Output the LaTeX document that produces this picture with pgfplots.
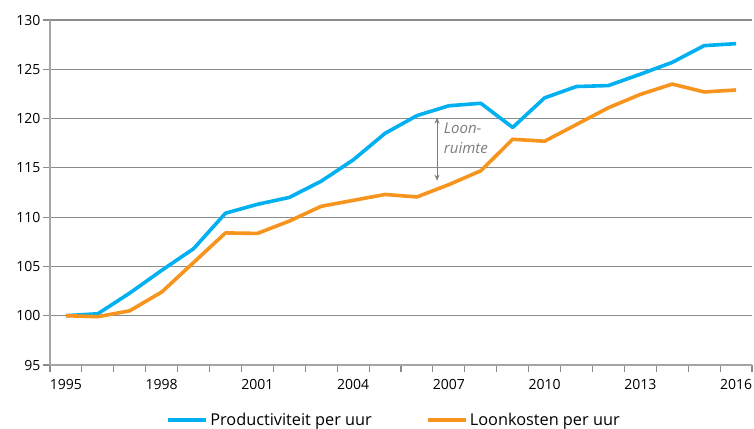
\documentclass[border=0pt]{standalone}
\usepackage{fontspec}
\setmainfont{Open Sans}
\usepackage{pgfplots}
\pgfplotsset{compat=1.18}
\usetikzlibrary{arrows.meta}
\definecolor{prodblue}{RGB}{0,176,240}
\definecolor{loonorange}{RGB}{247,148,30}
\definecolor{gridgray}{RGB}{140,140,140}
\definecolor{axisgray}{RGB}{165,165,165}
\definecolor{notegray}{RGB}{125,125,125}

\pgfplotstableread{
year prod loon
1995 100.0 100.0
1996 100.2 99.9
1997 102.3 100.5
1998 104.6 102.4
1999 106.8 105.4
2000 110.4 108.4
2001 111.3 108.35
2002 112.0 109.6
2003 113.65 111.1
2004 115.8 111.7
2005 118.5 112.3
2006 120.3 112.05
2007 121.3 113.3
2008 121.55 114.7
2009 119.1 117.9
2010 122.1 117.7
2011 123.25 119.4
2012 123.35 121.1
2013 124.5 122.45
2014 125.7 123.5
2015 127.4 122.7
2016 127.6 122.9
}\datatable

\begin{document}
\begin{tikzpicture}
\path[use as bounding box] (-50bp,-64bp) rectangle (704bp,365bp);
\begin{axis}[
  at={(0,0)}, anchor=south west,
  scale only axis, width=702bp, height=345bp,
  xmin=1994.5, xmax=2016.5,
  ymin=95, ymax=130,
  ytick={95,100,...,130},
  xtick={1994.5,1995.5,...,2016.5},
  xticklabels={},
  extra x ticks={1995,1998,2001,2004,2007,2010,2013,2016},
  extra x tick labels={1995,1998,2001,2004,2007,2010,2013,2016},
  extra x tick style={major tick length=0pt, grid=none, xticklabel style={yshift=-11bp}},
  axis x line*=bottom, axis y line*=left,
  axis line style={axisgray, line width=1.3bp},
  tick align=outside,
  major tick length=7bp,
  tick style={gridgray, line width=1.1bp},
  ymajorgrids,
  major grid style={gridgray, line width=1.1bp},
  yticklabel style={xshift=1bp},
  /pgf/number format/assume math mode=true,
  /pgf/number format/1000 sep={},
  ticklabel style={font=\fontsize{14bp}{16bp}\selectfont, text=black},
  legend columns=2,
  legend style={draw=none, at={(0.49,-0.16)}, anchor=center,
    font=\fontsize{16.3bp}{19bp}\selectfont,
    /tikz/every even column/.append style={column sep=52bp}},
  legend image code/.code={\draw[line width=4bp] (-5bp,0bp) -- (33bp,0bp);},
  clip=false,
]
\addplot[prodblue, line width=3.6bp, line join=round] table[x=year, y=prod] {\datatable};
\addlegendentry{Productiviteit per uur}
\addplot[loonorange, line width=3.6bp, line join=round] table[x=year, y=loon] {\datatable};
\addlegendentry{Loonkosten per uur}
\draw[notegray, line width=1bp, {Stealth[length=6bp,width=5bp]}-{Stealth[length=6bp,width=5bp]}] (axis cs:2006.63,120.1) -- (axis cs:2006.63,113.7);
\node[anchor=west, align=left, text=notegray, font=\fontsize{15bp}{20bp}\selectfont\itshape, inner sep=0pt] at (axis cs:2006.84,118.0) {Loon-\\ruimte};
\end{axis}
\end{tikzpicture}
\end{document}
